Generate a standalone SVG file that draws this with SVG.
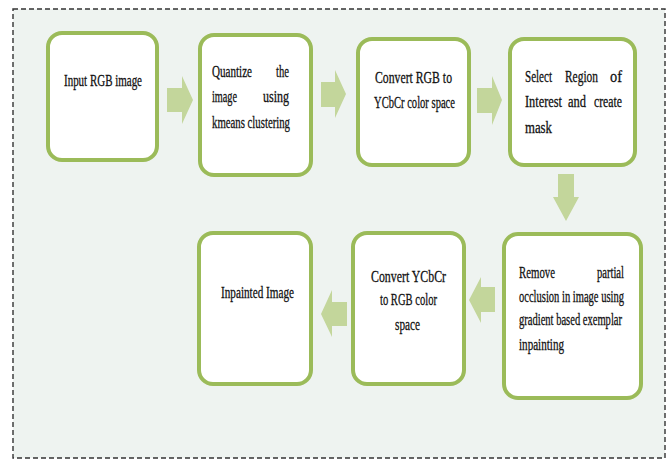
<svg xmlns="http://www.w3.org/2000/svg" width="672" height="460" viewBox="0 0 672 460">
<style>
.bg{fill:#eef3f0;stroke:#333;stroke-width:1.4;stroke-dasharray:5 3}
.box{fill:#fff;stroke:#9bbb59;stroke-width:4}
.arr{fill:#c3d69b;stroke:none}
text{font-family:"Liberation Serif","Times New Roman",serif;font-size:11.5px;fill:#111;stroke:#111;stroke-width:0.2}
</style>
<rect class="bg" x="13" y="9" width="652" height="449"/>
<g id="connectors">
<polygon class="arr" points="167,88 182,88 182,76 193,100 182,124 182,112 167,112"/>
<polygon class="arr" points="321,82 335,82 335,70 346,94 335,118 335,107 321,107"/>
<polygon class="arr" points="477,88 492,88 492,76 502,100 492,125 492,113 477,113"/>
<polygon class="arr" points="558,174 574,174 574,197 579,197 566,221 553,197 558,197"/>
<polygon class="arr" points="495,287 481,287 481,277 469,300 481,323 481,312 495,312"/>
<polygon class="arr" points="347,302 332,302 332,290 321,314 332,337 332,326 347,326"/>
</g>
<g id="n1">
<rect class="box" x="48" y="33" width="109" height="127" rx="14"/>
<text transform="translate(64 86) scale(1 1.45)" textLength="78" lengthAdjust="spacingAndGlyphs">Input RGB image</text>
</g>
<g id="n2">
<rect class="box" x="200" y="35" width="111" height="140" rx="14"/>
<text transform="translate(212 77) scale(1 1.45)" textLength="40" lengthAdjust="spacingAndGlyphs">Quantize</text>
<text transform="translate(276 77) scale(1 1.45)" textLength="13" lengthAdjust="spacingAndGlyphs">the</text>
<text transform="translate(212 102) scale(1 1.45)" textLength="25" lengthAdjust="spacingAndGlyphs">image</text>
<text transform="translate(263 102) scale(1 1.45)" textLength="26" lengthAdjust="spacingAndGlyphs">using</text>
<text transform="translate(212 128) scale(1 1.45)" textLength="78" lengthAdjust="spacingAndGlyphs">kmeans clustering</text>
</g>
<g id="n3">
<rect class="box" x="358" y="39" width="111" height="126" rx="14"/>
<text transform="translate(375 83) scale(1 1.45)" textLength="77" lengthAdjust="spacingAndGlyphs">Convert  RGB to</text>
<text transform="translate(374 108) scale(1 1.45)" textLength="81" lengthAdjust="spacingAndGlyphs">YCbCr color space</text>
</g>
<g id="n4">
<rect class="box" x="510" y="39" width="125" height="126" rx="14"/>
<text transform="translate(525 82) scale(1 1.45)" textLength="27" lengthAdjust="spacingAndGlyphs">Select</text>
<text transform="translate(565 82) scale(1 1.45)" textLength="33" lengthAdjust="spacingAndGlyphs">Region</text>
<text transform="translate(610 82) scale(1 1.45)" textLength="12" lengthAdjust="spacingAndGlyphs">of</text>
<text transform="translate(525 107) scale(1 1.45)" textLength="37" lengthAdjust="spacingAndGlyphs">Interest</text>
<text transform="translate(568 107) scale(1 1.45)" textLength="18" lengthAdjust="spacingAndGlyphs">and</text>
<text transform="translate(594 107) scale(1 1.45)" textLength="28" lengthAdjust="spacingAndGlyphs">create</text>
<text transform="translate(525 133) scale(1 1.45)" textLength="27" lengthAdjust="spacingAndGlyphs">mask</text>
</g>
<g id="n5">
<rect class="box" x="504" y="234" width="137" height="164" rx="14"/>
<text transform="translate(519 278) scale(1 1.45)" textLength="36" lengthAdjust="spacingAndGlyphs">Remove</text>
<text transform="translate(597 278) scale(1 1.45)" textLength="27" lengthAdjust="spacingAndGlyphs">partial</text>
<text transform="translate(519 302) scale(1 1.45)" textLength="105" lengthAdjust="spacingAndGlyphs">occlusion in image using</text>
<text transform="translate(519 325) scale(1 1.45)" textLength="103" lengthAdjust="spacingAndGlyphs">gradient based exemplar</text>
<text transform="translate(519 350) scale(1 1.45)" textLength="45" lengthAdjust="spacingAndGlyphs">inpainting</text>
</g>
<g id="n6">
<rect class="box" x="353" y="233" width="111" height="151" rx="14"/>
<text transform="translate(371 282) scale(1 1.45)" textLength="75" lengthAdjust="spacingAndGlyphs">Convert  YCbCr</text>
<text transform="translate(380 305) scale(1 1.45)" textLength="57" lengthAdjust="spacingAndGlyphs">to RGB color</text>
<text transform="translate(395 330) scale(1 1.45)" textLength="25" lengthAdjust="spacingAndGlyphs">space</text>
</g>
<g id="n7">
<rect class="box" x="199" y="233" width="112" height="151" rx="14"/>
<text transform="translate(221 298) scale(1 1.45)" textLength="73" lengthAdjust="spacingAndGlyphs">Inpainted Image</text>
</g>
</svg>
